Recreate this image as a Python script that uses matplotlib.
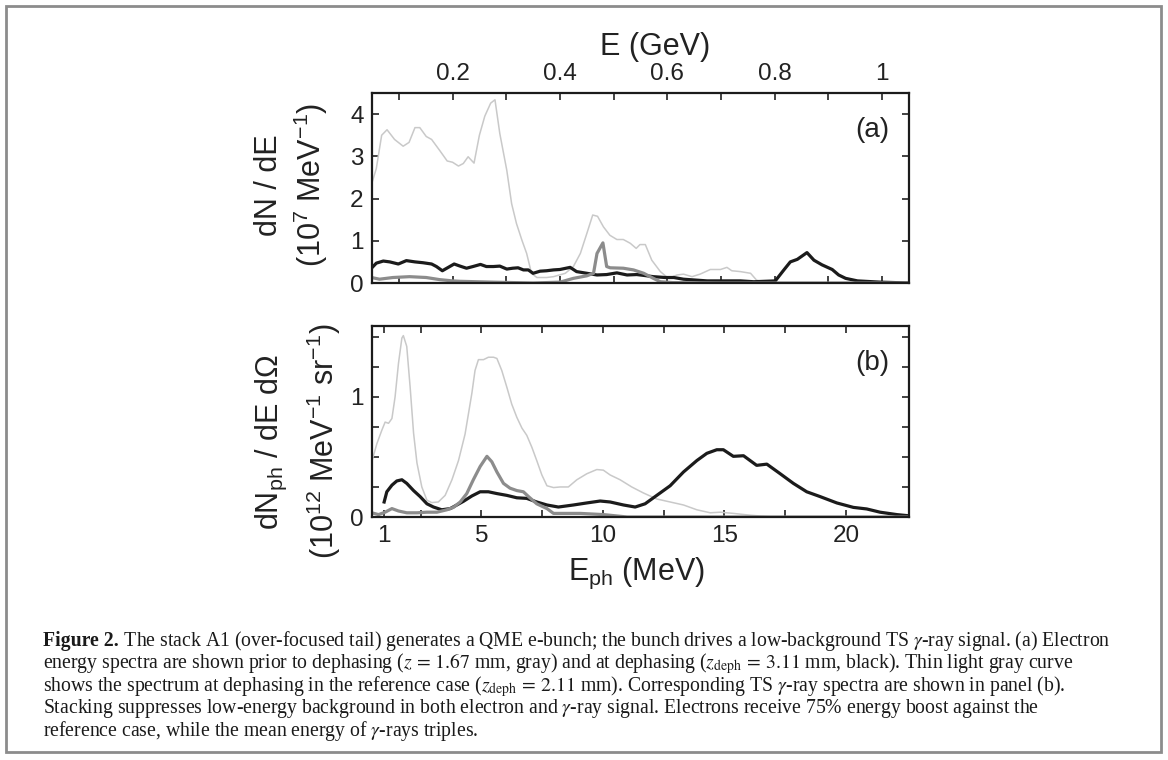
## Figure 2: electron spectra (a) and TS gamma-ray spectra (b)
import numpy as np
import matplotlib.pyplot as plt
from matplotlib.patches import Rectangle

plt.rcParams['font.family'] = ['Liberation Sans', 'DejaVu Sans']
plt.rcParams['mathtext.fontset'] = 'custom'
plt.rcParams['mathtext.rm'] = 'Liberation Sans'
plt.rcParams['mathtext.it'] = 'Liberation Sans:italic'
plt.rcParams['mathtext.bf'] = 'Liberation Sans:bold'

## panel (a): electron energy E (GeV), dN/dE (1e7 / MeV)
# reference case at dephasing (thin light gray)
ea_ref = [0.048, 0.058, 0.068, 0.078, 0.092, 0.108, 0.119, 0.130, 0.139, 0.151, 0.161,
          0.176, 0.190, 0.200, 0.211, 0.220, 0.229, 0.240, 0.250, 0.260, 0.271, 0.279,
          0.288, 0.301, 0.310, 0.319, 0.329, 0.338, 0.347, 0.357, 0.375, 0.388, 0.410,
          0.425, 0.438, 0.450, 0.461, 0.470, 0.481, 0.493, 0.506, 0.518, 0.531, 0.542,
          0.549, 0.559, 0.571, 0.587, 0.602, 0.618, 0.630, 0.646, 0.661, 0.680, 0.699,
          0.711, 0.720, 0.736, 0.755, 0.766, 0.780, 0.85, 1.05]
na_ref = [2.29, 2.71, 3.50, 3.63, 3.40, 3.24, 3.33, 3.68, 3.68, 3.47, 3.40,
          3.14, 2.89, 2.86, 2.77, 2.83, 2.99, 2.84, 3.50, 3.95, 4.26, 4.34,
          3.54, 2.67, 1.88, 1.41, 1.02, 0.70, 0.23, 0.13, 0.13, 0.15, 0.23,
          0.39, 0.70, 1.17, 1.61, 1.58, 1.33, 1.13, 1.03, 1.03, 0.94, 0.82,
          0.91, 0.91, 0.54, 0.27, 0.11, 0.19, 0.21, 0.15, 0.21, 0.32, 0.32,
          0.37, 0.29, 0.27, 0.23, 0.07, 0.01, 0.0, 0.0]
# stack A1 at dephasing (black)
ea_deph = [0.049, 0.058, 0.071, 0.083, 0.099, 0.114, 0.130, 0.145, 0.161, 0.170, 0.181,
           0.192, 0.203, 0.214, 0.226, 0.238, 0.252, 0.263, 0.276, 0.288, 0.301, 0.312,
           0.322, 0.332, 0.341, 0.350, 0.363, 0.375, 0.388, 0.400, 0.419, 0.431, 0.450,
           0.469, 0.487, 0.506, 0.525, 0.543, 0.556, 0.574, 0.596, 0.612, 0.630, 0.674,
           0.736, 0.761, 0.801, 0.817, 0.829, 0.842, 0.860, 0.873, 0.888, 0.907, 0.919,
           0.932, 0.954, 0.997, 1.05]
na_deph = [0.35, 0.47, 0.52, 0.50, 0.45, 0.53, 0.50, 0.48, 0.45, 0.39, 0.29,
           0.37, 0.45, 0.40, 0.35, 0.39, 0.44, 0.39, 0.39, 0.40, 0.33, 0.35,
           0.36, 0.31, 0.31, 0.23, 0.28, 0.29, 0.31, 0.32, 0.37, 0.27, 0.23,
           0.19, 0.20, 0.24, 0.19, 0.20, 0.18, 0.15, 0.13, 0.13, 0.09, 0.05,
           0.05, 0.03, 0.05, 0.31, 0.50, 0.56, 0.72, 0.54, 0.43, 0.32, 0.19,
           0.11, 0.05, 0.02, 0.0]
# stack A1 prior to dephasing (gray)
ea_prior = [0.049, 0.064, 0.089, 0.120, 0.151, 0.176, 0.200, 0.214, 0.276, 0.350, 0.400,
            0.425, 0.450, 0.4625, 0.469, 0.480, 0.487, 0.4935, 0.518, 0.537, 0.556, 0.574,
            0.587, 0.610, 0.70, 1.05]
na_prior = [0.13, 0.09, 0.13, 0.15, 0.13, 0.08, 0.05, 0.04, 0.02, 0.0, 0.02,
            0.11, 0.17, 0.23, 0.70, 0.95, 0.39, 0.36, 0.35, 0.31, 0.23, 0.11,
            0.03, 0.01, 0.0, 0.0]

## panel (b): photon energy E_ph (MeV), dN_ph/dE dOmega (1e12 / MeV / sr)
eb_ref = [0.49, 0.70, 0.90, 1.04, 1.18, 1.32, 1.45, 1.59, 1.73, 1.79, 1.93, 2.07, 2.21,
          2.35, 2.55, 2.76, 2.96, 3.23, 3.51, 3.79, 4.06, 4.33, 4.61, 4.74, 4.88, 5.09,
          5.29, 5.50, 5.64, 5.84, 6.05, 6.25, 6.46, 6.67, 6.87, 7.08, 7.28, 7.49, 7.70,
          7.97, 8.24, 8.58, 8.93, 9.34, 9.75, 10.02, 10.30, 10.71, 11.19, 11.67, 12.22,
          12.77, 13.32, 13.87, 14.42, 14.83, 15.37, 16.06, 17.0, 22.6]
nb_ref = [0.46, 0.61, 0.72, 0.79, 0.78, 0.82, 1.00, 1.28, 1.49, 1.51, 1.42, 1.08, 0.70,
          0.45, 0.25, 0.14, 0.12, 0.125, 0.18, 0.31, 0.47, 0.69, 1.03, 1.22, 1.31, 1.31,
          1.33, 1.33, 1.32, 1.22, 1.08, 0.94, 0.83, 0.74, 0.68, 0.58, 0.47, 0.35, 0.26,
          0.245, 0.25, 0.25, 0.31, 0.36, 0.395, 0.39, 0.35, 0.31, 0.25, 0.20, 0.15,
          0.125, 0.10, 0.06, 0.035, 0.04, 0.03, 0.015, 0.0, 0.0]
eb_deph = [1.0, 1.11, 1.32, 1.52, 1.73, 1.93, 2.21, 2.48, 2.76, 3.03, 3.37, 3.72, 3.99,
           4.26, 4.61, 4.95, 5.29, 5.64, 6.05, 6.46, 6.87, 7.28, 7.70, 8.17, 8.79, 9.34,
           9.89, 10.30, 10.85, 11.33, 11.74, 12.22, 12.77, 13.32, 13.87, 14.28, 14.69,
           14.96, 15.37, 15.79, 16.33, 16.75, 17.30, 17.84, 18.39, 18.94, 19.63, 20.31,
           20.86, 21.41, 22.1, 22.6]
nb_deph = [0.125, 0.21, 0.265, 0.30, 0.31, 0.28, 0.22, 0.17, 0.11, 0.083, 0.06, 0.07, 0.10,
           0.13, 0.175, 0.21, 0.21, 0.195, 0.18, 0.16, 0.155, 0.125, 0.10, 0.083, 0.10, 0.117,
           0.133, 0.125, 0.10, 0.083, 0.11, 0.18, 0.26, 0.375, 0.47, 0.53, 0.56,
           0.56, 0.505, 0.51, 0.43, 0.44, 0.36, 0.28, 0.21, 0.17, 0.117, 0.08,
           0.067, 0.04, 0.02, 0.01]
eb_prior = [0.49, 0.77, 1.04, 1.32, 1.59, 1.93, 2.35, 2.76, 3.17, 3.58, 3.85, 4.13, 4.40,
            4.67, 4.95, 5.23, 5.43, 5.64, 5.91, 6.18, 6.46, 6.73, 6.94, 7.28, 7.70, 7.97,
            9.07, 10.03, 11.0, 22.6]
nb_prior = [0.035, 0.02, 0.04, 0.07, 0.05, 0.035, 0.035, 0.04, 0.04, 0.06, 0.08, 0.125, 0.195,
            0.31, 0.42, 0.505, 0.46, 0.375, 0.28, 0.24, 0.22, 0.21, 0.17, 0.11, 0.07, 0.03,
            0.03, 0.02, 0.0, 0.0]

## axis ticks and labels
ticks_gev = [0.1, 0.2, 0.3, 0.4, 0.5, 0.6, 0.7, 0.8, 0.9, 1.0]
ticklab_gev = ['', '0.2', '', '0.4', '', '0.6', '', '0.8', '', '1']
yticks_a = [0, 1, 2, 3, 4]
ticks_mev = [1, 2.5, 5, 7.5, 10, 12.5, 15, 17.5, 20]
ticklab_mev = ['1', '', '5', '', '10', '', '15', '', '20']
yticks_b = [0, 0.25, 0.5, 0.75, 1, 1.25, 1.5]
yticklab_b = ['0', '', '', '', '1', '', '']

c_ref, c_deph, c_prior = '#c9c9c9', '#1b1b1b', '#8c8c8c'
W, H = 1168, 760

fig = plt.figure(figsize=(W/100, H/100), dpi=100)
axa = fig.add_axes([372/W, 1-283/H, 537/W, 190/H])
axb = fig.add_axes([372/W, 1-517/H, 537/W, 191/H])

axa.plot(ea_ref, na_ref, color=c_ref, lw=1.1)
axa.plot(ea_deph, na_deph, color=c_deph, lw=2.3)
axa.plot(ea_prior, na_prior, color=c_prior, lw=2.3)
axa.set_xlim(0.05, 1.05); axa.set_ylim(0, 4.5)
axa.set_xticks(ticks_gev); axa.set_xticklabels(ticklab_gev)
axa.set_yticks(yticks_a); axa.set_yticklabels([str(v) for v in yticks_a])
axa.tick_params(top=True, labeltop=True, bottom=True, labelbottom=False)

axb.plot(eb_ref, nb_ref, color=c_ref, lw=1.1)
axb.plot(eb_deph, nb_deph, color=c_deph, lw=2.3)
axb.plot(eb_prior, nb_prior, color=c_prior, lw=2.3)
axb.set_xlim(0.5, 22.6); axb.set_ylim(0, 1.59)
axb.set_xticks(ticks_mev); axb.set_xticklabels(ticklab_mev)
axb.set_yticks(yticks_b); axb.set_yticklabels(yticklab_b)
axb.tick_params(top=True, bottom=True)

for ax in (axa, axb):
    ax.tick_params(direction='in', right=True, length=5, width=1.2,
                   labelsize=17.5, pad=6, colors='#222222')
    for s in ax.spines.values():
        s.set_linewidth(1.6); s.set_color('#1b1b1b')

axa.text(0.963, 0.805, '(a)', transform=axa.transAxes, ha='right', va='center', fontsize=20, color='#222222')
axb.text(0.963, 0.804, '(b)', transform=axb.transAxes, ha='right', va='center', fontsize=20, color='#222222')

## axis labels (placed in figure pixels)
def ftext(x, y, s, **kw):
    return fig.text(x/W, 1-y/H, s, color='#222222', **kw)

ftext(600, 55, 'E (GeV)', ha='left', va='baseline', fontsize=22)
ftext(568, 580, r'E$_{\rm ph}$ (MeV)', ha='left', va='baseline', fontsize=22)
ftext(277, 185, 'dN / dE', rotation=90, rotation_mode='anchor', ha='center', va='baseline', fontsize=22)
ftext(321, 185, r'(10$^7$ MeV$^{-1}$)', rotation=90, rotation_mode='anchor', ha='center', va='baseline', fontsize=22)
ftext(278, 442, r'dN$_{\rm ph}$ / dE dΩ', rotation=90, rotation_mode='anchor', ha='center', va='baseline', fontsize=22)
ftext(334, 441, r'(10$^{12}$ MeV$^{-1}$ sr$^{-1}$)', rotation=90, rotation_mode='anchor', ha='center', va='baseline', fontsize=22)

## frame and caption
fig.add_artist(Rectangle((6/W, 1-752/H), 1155/W, 746/H, transform=fig.transFigure,
                         fill=False, edgecolor='#8c8c8c', lw=2))

cap = [r' The stack A1 (over-focused tail) generates a QME e-bunch; the bunch drives a low-background TS $\gamma$-ray signal. (a) Electron',
       r'energy spectra are shown prior to dephasing ($z\,=\,1.67$ mm, gray) and at dephasing ($z_{\rm deph}\,=\,3.11$ mm, black). Thin light gray curve',
       r'shows the spectrum at dephasing in the reference case ($z_{\rm deph}\,=\,2.11$ mm). Corresponding TS $\gamma$-ray spectra are shown in panel (b).',
       r'Stacking suppresses low-energy background in both electron and $\gamma$-ray signal. Electrons receive 75% energy boost against the',
       r'reference case, while the mean energy of $\gamma$-rays triples.']
cap_kw = dict(family='Liberation Serif', math_fontfamily='stix', fontsize=14.2, va='baseline', color='#1a1a1a')
cap_y = [646, 668.5, 691, 713.5, 736]
fig.canvas.draw()
r = fig.canvas.get_renderer()
t0 = fig.text(43/W, 1-cap_y[0]/H, 'Figure 2.', fontweight='bold', **cap_kw)
bb = t0.get_window_extent(renderer=r)
fig.text(bb.x1/W, 1-cap_y[0]/H, cap[0], **cap_kw)
for s, y in zip(cap[1:], cap_y[1:]):
    fig.text(43/W, 1-y/H, s, **cap_kw)

plt.savefig('out.png', dpi=100)
